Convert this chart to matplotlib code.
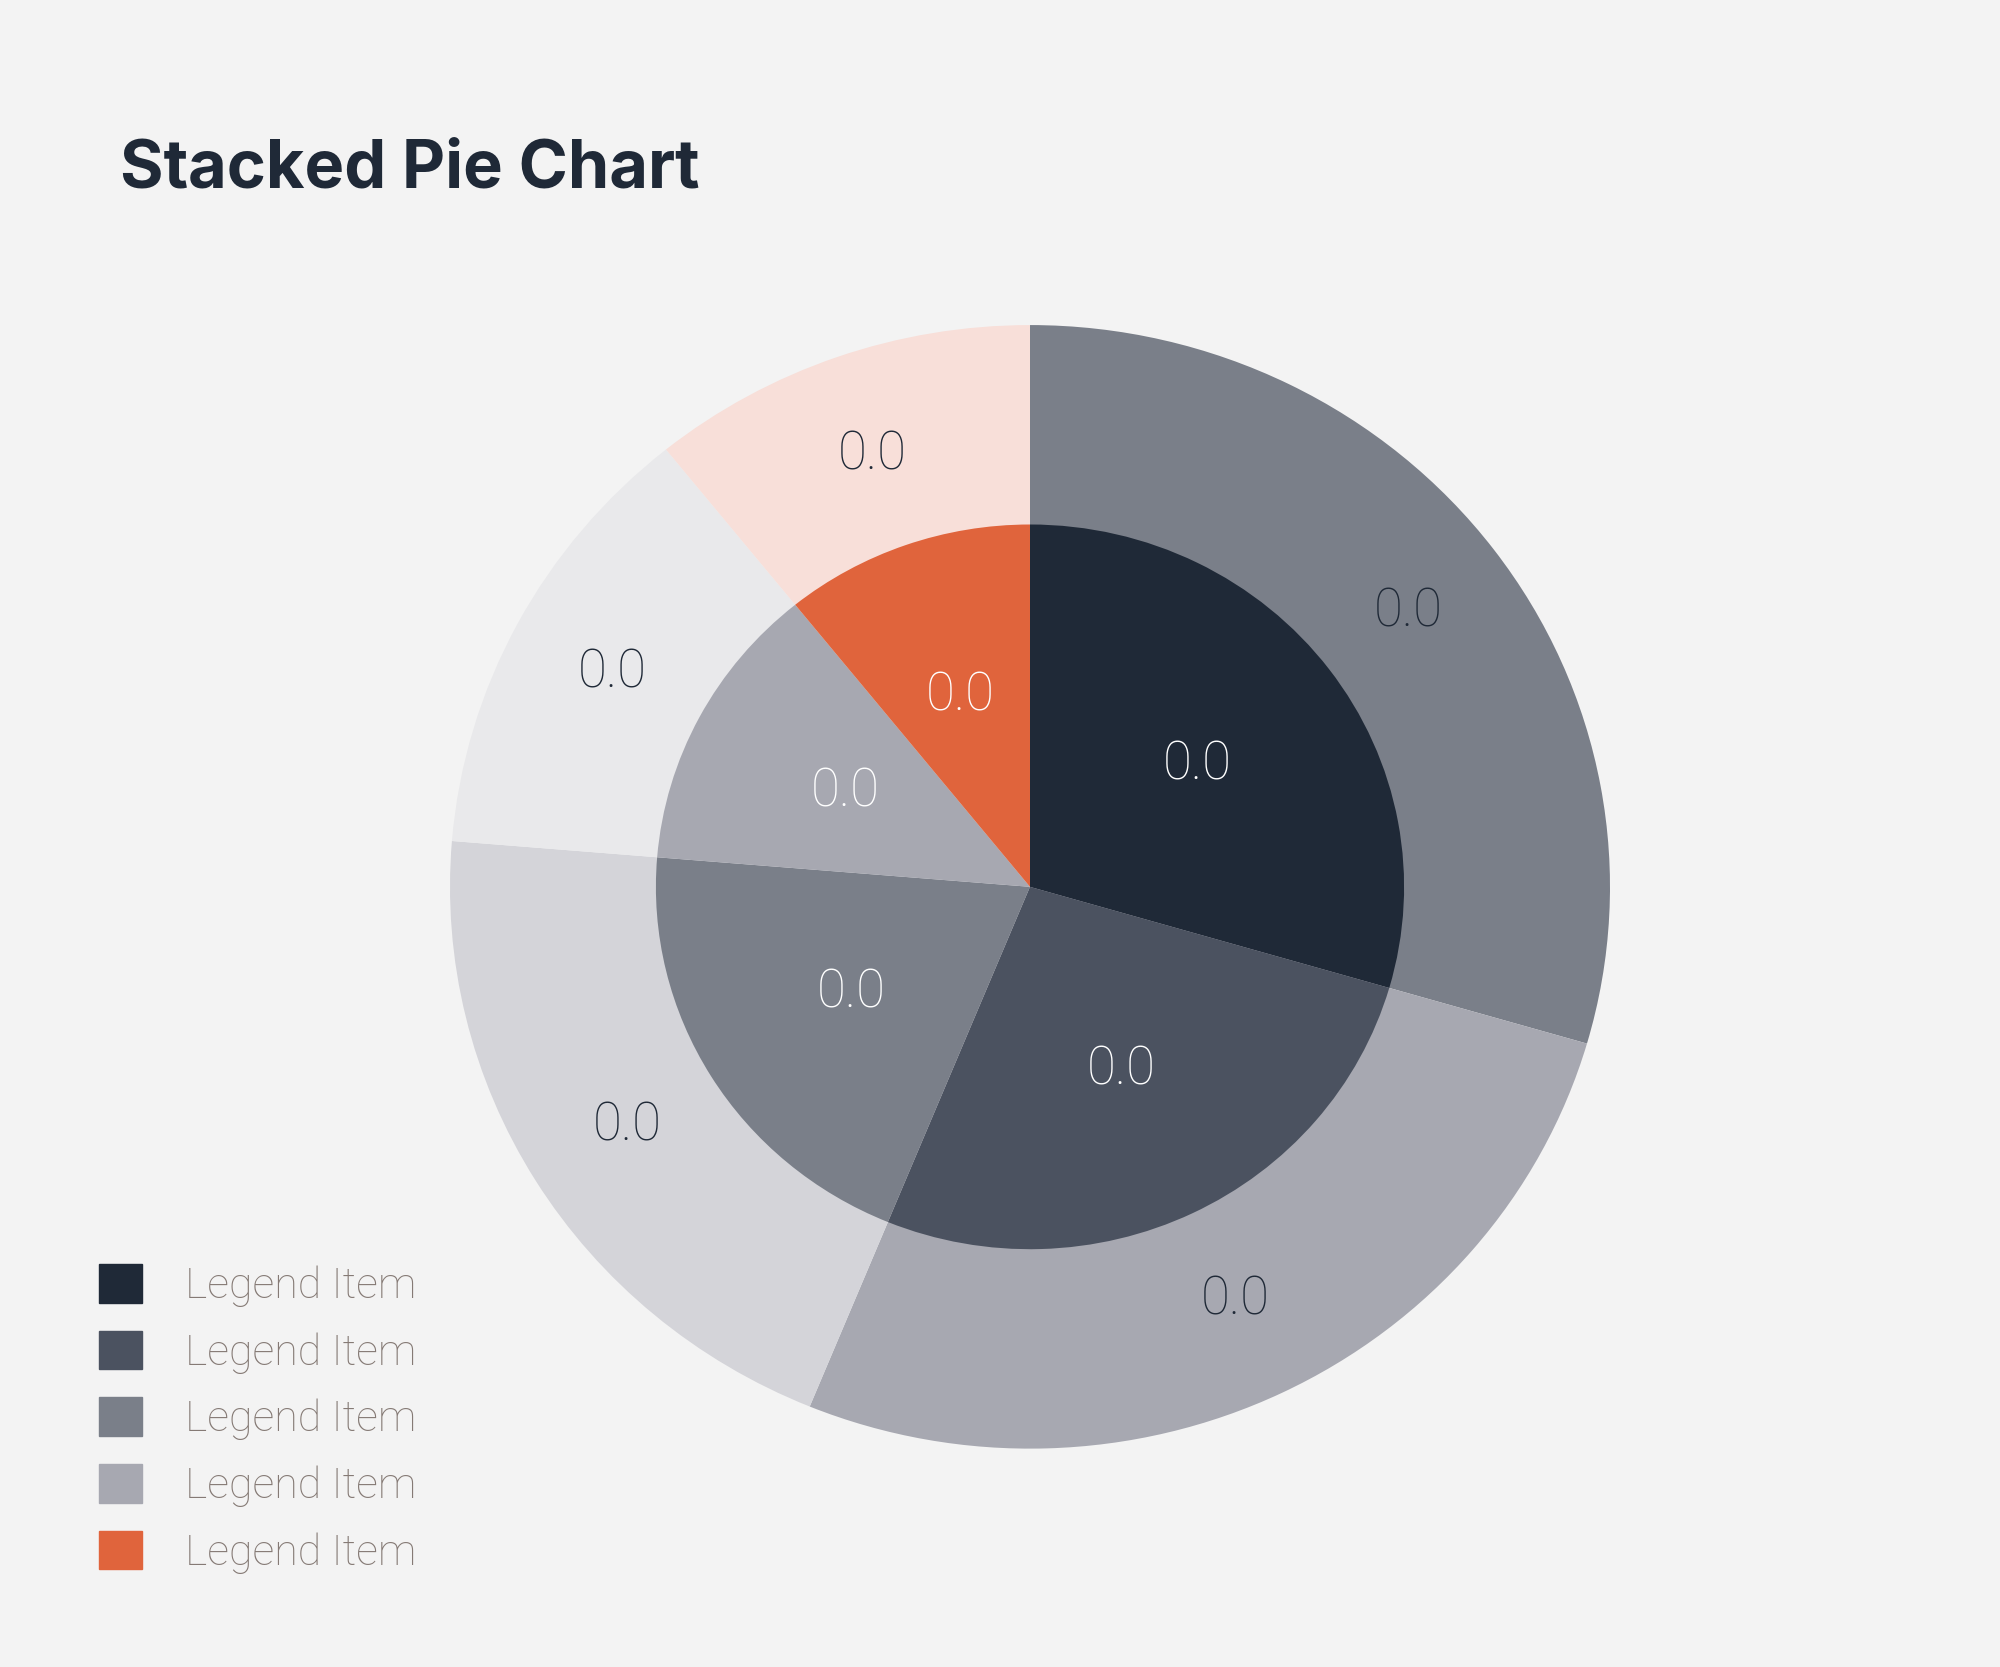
import matplotlib.pyplot as plt
from matplotlib.patches import Patch

# data (slice shares, percent)
inner_values = [29.5, 26.7, 20.1, 12.9, 10.8]
outer_values = [29.5, 26.7, 20.1, 12.9, 10.8]
inner_labels = ["0.0"] * 5
outer_labels = ["0.0"] * 5
legend_labels = ["Legend Item"] * 5

inner_colors = ["#1f2937", "#4b5260", "#7a7f89", "#a7a8b1", "#e0643c"]
outer_colors = ["#7a7f89", "#a7a8b1", "#d4d4d9", "#e9e9eb", "#f8dfd9"]

bg = "#f3f3f3"
fig = plt.figure(figsize=(20, 16.67), dpi=100, facecolor=bg)

ax = fig.add_axes([0.515 - 0.29, 0.468 - 0.337, 0.58, 0.674])
ax.set_facecolor(bg)

_, t_out = ax.pie(outer_values, radius=1, colors=outer_colors, startangle=90,
                  counterclock=False, labels=outer_labels, labeldistance=0.815,
                  wedgeprops=dict(linewidth=0))
_, t_in = ax.pie(inner_values, radius=0.645, colors=inner_colors, startangle=90,
                 counterclock=False, labels=inner_labels, labeldistance=0.56,
                 wedgeprops=dict(linewidth=0))
for t in t_out:
    t.set(color="#1f2937", fontsize=38, family="Roboto", weight="light",
          ha="center", va="center")
for t in t_in:
    t.set(color="white", fontsize=38, family="Roboto", weight="light",
          ha="center", va="center")
ax.set_aspect("auto")
ax.set_xlim(-1, 1)
ax.set_ylim(-1, 1)
ax.axis("off")

fig.text(0.06, 0.898, "Stacked Pie Chart", fontsize=48, fontweight="bold",
         family="Inter", color="#1f2937", va="center")

handles = [Patch(color=c) for c in inner_colors]
fig.legend(handles, legend_labels, loc="upper left", bbox_to_anchor=(0.03, 0.265),
           frameon=False, handlelength=1.0, handleheight=1.0, handletextpad=1.0,
           labelspacing=0.55, prop=dict(family="Roboto", weight="light", size=31),
           labelcolor="#857a75")

fig.savefig("out.png", facecolor=bg)
